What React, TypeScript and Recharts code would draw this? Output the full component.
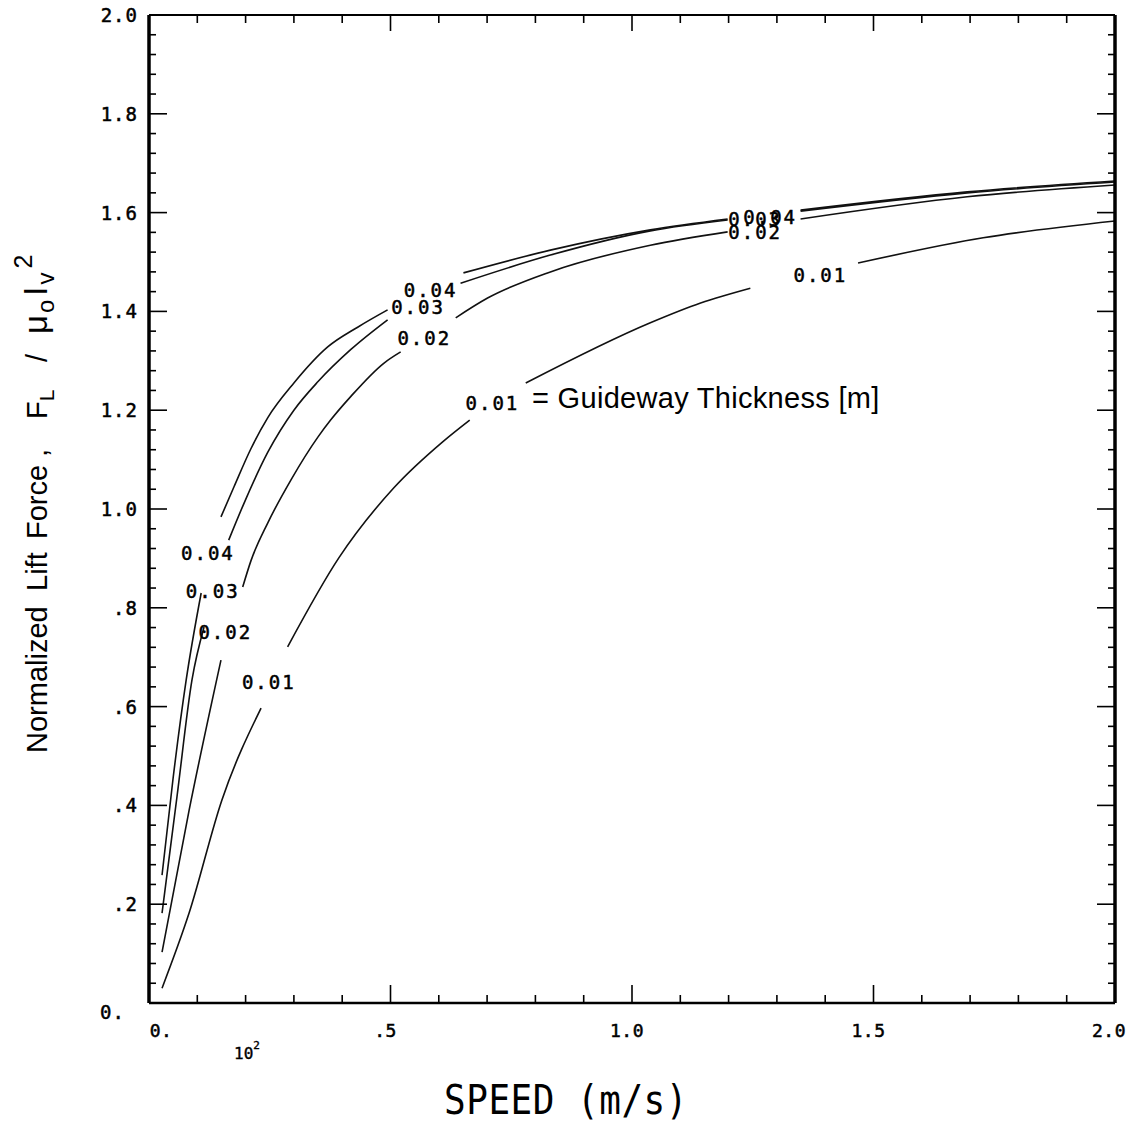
import React from 'react';
import { LineChart, Line, XAxis, YAxis, ReferenceDot, Label } from 'recharts';

// ---- Data (speed in units of 10^2 m/s, normalized lift force) ----
// Guideway thickness 0.04 m
const t04Speed = [0.027, 0.05, 0.077, 0.108, 0.128, 0.149, 0.176, 0.211, 0.246, 0.3, 0.37, 0.432, 0.494, 0.57, 0.651, 0.831, 1.038, 1.198, 1.27, 1.349, 1.694, 2.0];
const t04Force = [0.259, 0.456, 0.654, 0.83, null, 0.984, 1.045, 1.122, 1.185, 1.255, 1.328, 1.368, 1.403, null, 1.478, 1.524, 1.565, 1.587, null, 1.605, 1.642, 1.664];
// 0.03 m
const t03Speed = [0.027, 0.058, 0.089, 0.114, 0.14, 0.165, 0.196, 0.246, 0.3, 0.35, 0.418, 0.494, 0.57, 0.645, 0.831, 1.038, 1.198, 1.27, 1.349, 1.694, 2.0];
const t03Force = [0.182, 0.418, 0.654, 0.761, null, 0.937, 1.01, 1.115, 1.2, 1.258, 1.323, 1.383, null, 1.457, 1.514, 1.563, 1.585, null, 1.603, 1.64, 1.662];
// 0.02 m
const t02Speed = [0.027, 0.083, 0.149, 0.17, 0.194, 0.211, 0.246, 0.294, 0.35, 0.376, 0.418, 0.486, 0.521, 0.58, 0.635, 0.701, 0.831, 1.038, 1.198, 1.27, 1.349, 1.694, 2.0];
const t02Force = [0.103, 0.39, 0.694, null, 0.842, 0.895, 0.972, 1.059, 1.146, 1.18, 1.228, 1.295, 1.318, null, 1.387, 1.427, 1.48, 1.534, 1.561, null, 1.587, 1.632, 1.656];
// 0.01 m
const t01Speed = [0.027, 0.083, 0.151, 0.232, 0.26, 0.287, 0.393, 0.507, 0.608, 0.664, 0.72, 0.78, 1.038, 1.142, 1.245, 1.35, 1.468, 1.727, 2.0];
const t01Force = [0.03, 0.182, 0.411, 0.597, null, 0.721, 0.901, 1.043, 1.136, 1.18, null, 1.255, 1.377, 1.417, 1.447, null, 1.498, 1.549, 1.583];

// Curve labels (anchor in data coordinates)
const labelSpeed = [0.122, 0.132, 0.158, 0.248, 0.583, 0.557, 0.57, 1.286, 1.255, 1.255, 1.39, 0.711];
const labelForce = [0.911, 0.834, 0.751, 0.65, 1.443, 1.409, 1.346, 1.591, 1.587, 1.561, 1.474, 1.215];
const labelText = ['0.04', '0.03', '0.02', '0.01', '0.04', '0.03', '0.02', '0.04', '0.03', '0.02', '0.01', '0.01'];
const legendSpeed = 0.793;
const legendForce = 1.225;
const legendText = '= Guideway Thickness [m]';

// Axis ticks
const xMajor = [0, 0.5, 1.0, 1.5, 2.0];
const xTickLabels = ['0.', '.5', '1.0', '1.5', '2.0'];
const xAll = [0, 0.1, 0.2, 0.3, 0.4, 0.5, 0.6, 0.7, 0.8, 0.9, 1.0, 1.1, 1.2, 1.3, 1.4, 1.5, 1.6, 1.7, 1.8, 1.9, 2.0];
const yMajor = [0, 0.2, 0.4, 0.6, 0.8, 1.0, 1.2, 1.4, 1.6, 1.8, 2.0];
const yTickLabels = ['0.', '.2', '.4', '.6', '.8', '1.0', '1.2', '1.4', '1.6', '1.8', '2.0'];
const yAll = [0, 0.04, 0.08, 0.12, 0.16, 0.2, 0.24, 0.28, 0.32, 0.36, 0.4, 0.44, 0.48, 0.52, 0.56, 0.6, 0.64, 0.68, 0.72, 0.76, 0.8, 0.84, 0.88, 0.92, 0.96, 1.0, 1.04, 1.08, 1.12, 1.16, 1.2, 1.24, 1.28, 1.32, 1.36, 1.4, 1.44, 1.48, 1.52, 1.56, 1.6, 1.64, 1.68, 1.72, 1.76, 1.8, 1.84, 1.88, 1.92, 1.96, 2.0];

const zip = (s: number[], f: (number | null)[]) => s.map((x, i) => ({ speed: x, force: f[i] }));
const series = [zip(t04Speed, t04Force), zip(t03Speed, t03Force), zip(t02Speed, t02Force), zip(t01Speed, t01Force)];

const PLOT_FONT = '"DejaVu Sans Mono", "Liberation Mono", monospace';
const SANS = '"Liberation Sans", Arial, Helvetica, sans-serif';

const idxOf = (arr: number[], v: number) => arr.findIndex((a) => Math.abs(a - v) < 1e-6);

const tickText = { fontFamily: PLOT_FONT, fontSize: 19, letterSpacing: 1, fill: '#000', stroke: '#000', strokeWidth: 0.5 };

const BottomTick = (props: any) => {
  const { x, y, payload } = props;
  const i = idxOf(xMajor, payload.value);
  const major = i >= 0;
  const len = major ? 18 : 8;
  const dx = payload.value === 0 ? 12 : i === xMajor.length - 1 ? -6 : -5;
  return (
    <g>
      <line x1={x} x2={x} y1={y} y2={y - len} stroke="#000" strokeWidth={1.6} />
      {major && (
        <text x={x + dx} y={y + 27} textAnchor="middle" dominantBaseline="central" {...tickText} fontSize={18} letterSpacing={0.5}>
          {xTickLabels[i]}
        </text>
      )}
    </g>
  );
};

const TopTick = (props: any) => {
  const { x, y, payload } = props;
  const major = idxOf(xMajor, payload.value) >= 0;
  const len = major ? 16 : 8;
  return <line x1={x} x2={x} y1={y} y2={y + len} stroke="#000" strokeWidth={1.6} />;
};

const LeftTick = (props: any) => {
  const { x, y, payload } = props;
  const i = idxOf(yMajor, payload.value);
  const major = i >= 0;
  const len = major ? 18 : 7;
  const isZero = payload.value === 0;
  return (
    <g>
      <line x1={x} x2={x + len} y1={y} y2={y} stroke="#000" strokeWidth={1.6} />
      {major && (
        <text x={x - (isZero ? 24 : 11)} y={y + (isZero ? 9 : 0)} textAnchor="end" dominantBaseline="central" {...tickText}>
          {yTickLabels[i]}
        </text>
      )}
    </g>
  );
};

const RightTick = (props: any) => {
  const { x, y, payload } = props;
  const major = idxOf(yMajor, payload.value) >= 0;
  const len = major ? 18 : 7;
  return <line x1={x} x2={x - len} y1={y} y2={y} stroke="#000" strokeWidth={1.6} />;
};

const XTitle = (props: any) => {
  const vb = props.viewBox || { x: 149, y: 1003 };
  const cx = vb.x + 417;
  const cy = vb.y + 97;
  return (
    <g>
      <text transform={`translate(${cx},${cy}) scale(1,1.15)`} x={0} y={0} textAnchor="middle" dominantBaseline="central" fontFamily={PLOT_FONT} fontSize={36} letterSpacing={0.5} fill="#000">
        SPEED (m/s)
      </text>
      <text x={vb.x + 98} y={vb.y + 50} textAnchor="middle" dominantBaseline="central" fontFamily={PLOT_FONT} fontSize={16} fill="#000" stroke="#000" strokeWidth={0.4}>
        10<tspan dy={-8} fontSize={11}>2</tspan>
      </text>
    </g>
  );
};

const YTitle = (props: any) => {
  const vb = props.viewBox || { x: 0, y: 15 };
  // baseline column and the bottom end of the rotated title
  const bx = vb.x + 47;
  const by = vb.y + 738;
  return (
    <text transform={`translate(${bx},${by}) rotate(-90)`} fontFamily={SANS} fontSize={29} fill="#000">
      <tspan x={0} y={0}>Normalized</tspan>
      <tspan x={162} y={0}>Lift</tspan>
      <tspan x={214} y={0}>Force</tspan>
      <tspan x={296} y={0}>,</tspan>
      <tspan x={334} y={0}>F</tspan>
      <tspan dy={7} fontSize={21}>L</tspan>
      <tspan x={391} y={0}>/</tspan>
      <tspan x={419} y={0} fontSize={33}>{'\u03BC'}</tspan>
      <tspan dy={7} fontSize={24} dx={2}>o</tspan>
      <tspan dy={-7} fontSize={33} dx={4}>I</tspan>
      <tspan dy={7} fontSize={24} dx={2}>v</tspan>
      <tspan dy={-22} fontSize={25} dx={4}>2</tspan>
    </text>
  );
};

const makeLabel = (text: string, font: string, size: number, spacing: number, anchor: string, sw: number) => (p: any) => {
  const vb = p.viewBox || { x: 0, y: 0 };
  return (
    <text x={vb.x} y={vb.y} textAnchor={anchor} dominantBaseline="central" fontFamily={font} fontSize={size} letterSpacing={spacing} fill="#000" stroke="#000" strokeWidth={sw}>
      {text}
    </text>
  );
};

export default function App() {
  return (
    <div style={{ width: 1133, height: 1129, background: '#fff', overflow: 'hidden' }}>
      <style>{'html,body{margin:0;padding:0;overflow:hidden;background:#fff}'}</style>
      <LineChart width={1133} height={1129} margin={{ top: 14, right: 17, bottom: 26, left: 0 }}>
        <XAxis
          xAxisId="b"
          type="number"
          dataKey="speed"
          domain={[0, 2]}
          ticks={xAll}
          interval={0}
          allowDataOverflow
          height={100}
          tickSize={0}
          tickMargin={0}
          tickLine={false}
          tick={<BottomTick />}
          axisLine={{ stroke: '#000', strokeWidth: 2.5 }}
        >
          <Label content={<XTitle />} />
        </XAxis>
        <XAxis
          xAxisId="t"
          orientation="top"
          type="number"
          dataKey="speed"
          domain={[0, 2]}
          ticks={xAll}
          interval={0}
          allowDataOverflow
          height={1}
          tickSize={0}
          tickMargin={0}
          tickLine={false}
          tick={<TopTick />}
          axisLine={{ stroke: '#000', strokeWidth: 2 }}
        />
        <YAxis
          yAxisId="l"
          type="number"
          domain={[0, 2]}
          ticks={yAll}
          interval={0}
          allowDataOverflow
          width={149}
          tickSize={0}
          tickMargin={0}
          tickLine={false}
          tick={<LeftTick />}
          axisLine={{ stroke: '#000', strokeWidth: 3.5 }}
        >
          <Label content={<YTitle />} />
        </YAxis>
        <YAxis
          yAxisId="r"
          orientation="right"
          type="number"
          domain={[0, 2]}
          ticks={yAll}
          interval={0}
          allowDataOverflow
          width={1}
          tickSize={0}
          tickMargin={0}
          tickLine={false}
          tick={<RightTick />}
          axisLine={{ stroke: '#000', strokeWidth: 3.5 }}
        />
        {series.map((d, i) => (
          <Line
            key={i}
            data={d}
            xAxisId="b"
            yAxisId="l"
            dataKey="force"
            type="monotone"
            stroke="#111"
            strokeWidth={1.6}
            dot={false}
            activeDot={false}
            connectNulls={false}
            isAnimationActive={false}
          />
        ))}
        {labelText.map((t, i) => (
          <ReferenceDot
            key={'lab' + i}
            xAxisId="b"
            yAxisId="l"
            x={labelSpeed[i]}
            y={labelForce[i]}
            r={0}
            fill="none"
            stroke="none"
            ifOverflow="visible"
            label={{ content: makeLabel(t, PLOT_FONT, 19, 2, 'middle', 0.5) }}
          />
        ))}
        <ReferenceDot
          xAxisId="b"
          yAxisId="l"
          x={legendSpeed}
          y={legendForce}
          r={0}
          fill="none"
          stroke="none"
          ifOverflow="visible"
          label={{ content: makeLabel(legendText, SANS, 29, 0.3, 'start', 0) }}
        />
      </LineChart>
    </div>
  );
}
